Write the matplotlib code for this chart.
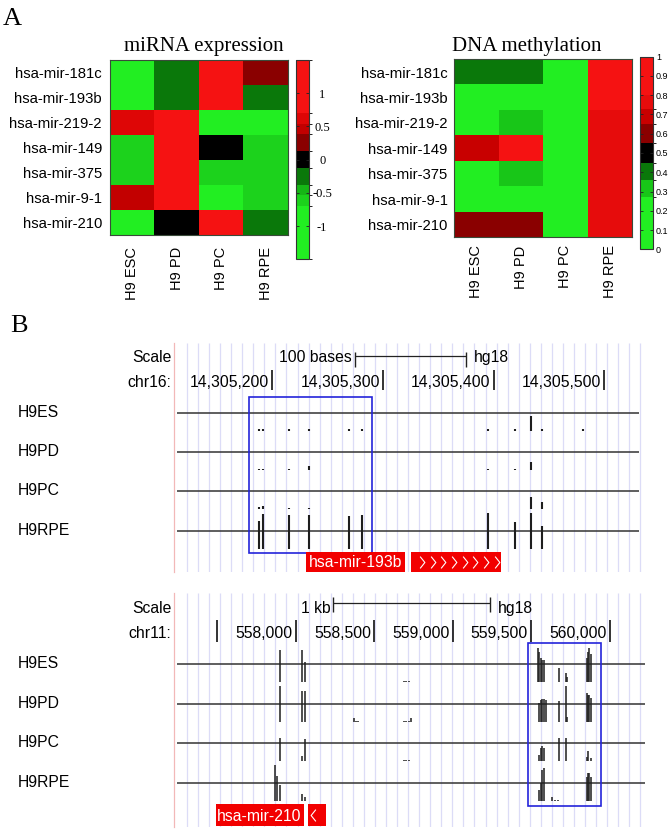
import numpy as np
import matplotlib.pyplot as plt
import matplotlib.transforms as mtransforms
from matplotlib.colors import ListedColormap, BoundaryNorm
from matplotlib.patches import Rectangle
from matplotlib.path import Path

plt.rcParams["font.family"] = ["Liberation Sans", "DejaVu Sans"]

W, H = 672, 833

# ---------------------------------------------------------
# Panel A data
# ---------------------------------------------------------
mirnas = ["hsa-mir-181c", "hsa-mir-193b", "hsa-mir-219-2", "hsa-mir-149",
          "hsa-mir-375", "hsa-mir-9-1", "hsa-mir-210"]
samples = ["H9 ESC", "H9 PD", "H9 PC", "H9 RPE"]

expr = [
    [-1.3, -0.3, 1.2, 0.3],
    [-1.3, -0.3, 1.2, -0.3],
    [0.6, 1.2, -1.3, -1.3],
    [-0.6, 1.2, 0.0, -0.6],
    [-0.6, 1.2, -0.6, -0.6],
    [0.45, 1.2, -1.3, -0.6],
    [-1.3, 0.0, 1.2, -0.3],
]
meth = [
    [0.40, 0.40, 0.10, 0.90],
    [0.10, 0.10, 0.10, 0.90],
    [0.10, 0.30, 0.10, 0.78],
    [0.68, 0.85, 0.10, 0.78],
    [0.10, 0.30, 0.15, 0.78],
    [0.10, 0.10, 0.10, 0.78],
    [0.60, 0.60, 0.10, 0.75],
]

expr_bounds = [-1.5, -0.7, -0.53, -0.38, -0.13, 0.13, 0.38, 0.53, 0.7, 1.5]
expr_colors = ["#22EE22", "#1CD21C", "#16B616", "#0A780A", "#000000",
               "#8A0000", "#C20000", "#DE0606", "#F51212"]
expr_ticks = [-1, -0.5, 0, 0.5, 1]
expr_ticklabels = ["-1", "-0.5", "0", "0.5", "1"]

meth_bounds = [0, 0.27, 0.36, 0.45, 0.55, 0.65, 0.73, 0.8, 1.0]
meth_colors = ["#22EE22", "#18C618", "#0A780A", "#000000",
               "#8A0000", "#C80000", "#E60C0C", "#F51212"]
meth_ticks = [0, 0.1, 0.2, 0.3, 0.4, 0.5, 0.6, 0.7, 0.8, 0.9, 1.0]
meth_ticklabels = ["0", "0.1", "0.2", "0.3", "0.4", "0.5", "0.6", "0.7", "0.8", "0.9", "1"]

# ---------------------------------------------------------
# Panel B data (CpG positions and methylation level per track)
# ---------------------------------------------------------
tracks = ["H9ES", "H9PD", "H9PC", "H9RPE"]

cpg16 = [14305188, 14305192, 14305215, 14305233, 14305269, 14305281,
         14305395, 14305419, 14305434, 14305444, 14305481]
es16 = [0.04, 0.04, 0.04, 0.04, 0.04, 0.04, 0.04, 0.04, 0.40, 0.04, 0.04]
pd16 = [0.04, 0.04, 0.04, 0.12, 0, 0, 0.04, 0.04, 0.23, 0, 0]
pc16 = [0.06, 0.10, 0.04, 0.04, 0, 0, 0, 0, 0.35, 0.20, 0]
rpe16 = [0.80, 0.97, 0.96, 0.96, 0.92, 0.96, 1.00, 0.77, 1.00, 0.64, 0]
ticks16 = [14305200, 14305300, 14305400, 14305500]
ticklabels16 = ["14,305,200", "14,305,300", "14,305,400", "14,305,500"]
view16 = (14305111.3, 14305536.8)
scale16 = (14305275, 100, "100 bases")
gene16 = ("hsa-mir-193b", 14305231, 14305320)
arrow16 = (14305325, 14305407, 8, "+")
box16 = (14305179, 14305290)

cpg11 = [557868, 557881, 557897, 558038, 558059, 558373, 558385, 558397,
         558690, 558705, 558720, 558735, 559542, 559553, 559562, 559572,
         559585, 559595, 559635, 559653, 559674, 559680, 559721, 559727,
         559855, 559863, 559871, 559882]
es11 = [0, 0, 0.90, 0.88, 0.55, 0, 0, 0, 0.04, 0.04, 0.04, 0,
        0.94, 0.84, 0.67, 0.62, 0.60, 0, 0, 0, 0, 0.38, 0.26, 0.15,
        0.67, 0.84, 0.95, 0.78]
pd11 = [0, 0, 1.00, 0.86, 0.86, 0.12, 0.04, 0.04, 0.04, 0.04, 0.04, 0.10,
        0, 0.54, 0.60, 0.65, 0.65, 0.62, 0, 0, 0, 0.58, 1.00, 0.14,
        0.80, 0.76, 0.76, 0.66]
pc11 = [0, 0, 0.64, 0.15, 0.62, 0, 0, 0, 0.04, 0.04, 0.04, 0,
        0, 0.17, 0.37, 0.42, 0.37, 0, 0, 0, 0, 0.64, 0.64, 0,
        0.12, 0.30, 0, 0.08]
rpe11 = [1.00, 0.70, 0.45, 0.20, 0.12, 0, 0, 0, 0, 0, 0, 0,
         0, 0.31, 0.50, 0.87, 0.92, 0, 0.12, 0.04, 0.04, 0, 0, 0,
         0.68, 0.78, 0.78, 0.68]
ticks11 = [557500, 558000, 558500, 559000, 559500, 560000]
ticklabels11 = ["", "558,000", "558,500", "559,000", "559,500", "560,000"]
view11 = (557224, 560226)
scale11 = (558240, 1000, "1 kb")
gene11 = ("hsa-mir-210", 557489, 558050)
arrow11 = (558077, 558192, 1, "-")
box11 = (559478, 559948)

fig = plt.figure(figsize=(W / 100, H / 100), dpi=100)


def px_axes(l, t, r, b):
    return fig.add_axes([l / W, 1 - b / H, (r - l) / W, (b - t) / H])


def fig_text(x, y, s, **kw):
    fig.text(x / W, 1 - y / H, s, **kw)


# ---------------------------------------------------------
# Panel A heatmaps
# ---------------------------------------------------------
def heatmap(box, cbox, data, bounds, colors, ypad, xpad,
            cticks, clabels, cfont, cpad, cha):
    ax = px_axes(*box)
    cmap = ListedColormap(colors)
    norm = BoundaryNorm(bounds, cmap.N)
    im = ax.imshow(np.array(data), cmap=cmap, norm=norm, aspect="auto",
                   interpolation="nearest")
    ax.set_xticks(range(len(samples)), samples, rotation=90, fontsize=10.5)
    ax.set_yticks(range(len(mirnas)), mirnas, fontsize=10.7)
    ax.tick_params(axis="x", length=0, pad=xpad)
    ax.tick_params(axis="y", length=0, pad=ypad)
    for s in ax.spines.values():
        s.set_color("#3a4a3a")
        s.set_linewidth(0.8)

    cax = px_axes(*cbox)
    cb = fig.colorbar(im, cax=cax, spacing="proportional", ticks=cticks)
    cb.outline.set_linewidth(0.8)
    cb.outline.set_edgecolor("#333333")
    cax.tick_params(direction="in", left=True, right=True, length=2.5,
                    width=0.6, color="#222222", pad=cpad)
    cax.set_yticklabels(clabels, **cfont)
    for t in cax.get_yticklabels():
        t.set_ha(cha)
    return ax


heatmap((110, 60, 288, 235), (296, 60, 309, 259.3), expr, expr_bounds,
        expr_colors, 5.8, 8.4, expr_ticks, expr_ticklabels,
        dict(family="Liberation Serif", fontsize=9), 9.5, "center")
heatmap((453.7, 59.3, 632, 237.3), (640.3, 56.7, 653.3, 249.3), meth,
        meth_bounds, meth_colors, 4.3, 5.8, meth_ticks, meth_ticklabels,
        dict(family="Liberation Sans", fontsize=6.5), 2.0, "left")

fig_text(203.5, 51.5, "miRNA expression", family="Liberation Serif",
         fontsize=15, ha="center", va="baseline")
fig_text(527, 50.5, "DNA methylation", family="Liberation Serif",
         fontsize=15, ha="center", va="baseline")
fig_text(3, 25, "A", family="Liberation Serif", fontsize=19, va="baseline")
fig_text(10, 331.5, "B", family="Liberation Serif", fontsize=19, va="baseline")


# ---------------------------------------------------------
# Panel B genome browser views
# ---------------------------------------------------------
def chevron(direction):
    if direction == "+":
        verts = [(-0.4, 1), (0.4, 0), (-0.4, -1)]
    else:
        verts = [(0.4, 1), (-0.4, 0), (0.4, -1)]
    return Path(verts, [Path.MOVETO, Path.LINETO, Path.LINETO])


def browser(box_px, lay, view, sites, values, ticks, ticklabels, scale,
            chrom, gene, arrow, hbox, line_end, bar_lw):
    ax = px_axes(*box_px)
    h = box_px[3] - box_px[1]
    ax.set_xlim(view)
    ax.set_ylim(h, 0)
    ax.set_xticks([])
    ax.set_yticks([])
    for s in ["top", "right", "bottom"]:
        ax.spines[s].set_visible(False)
    ax.spines["left"].set_color("#F2B8B8")
    ax.spines["left"].set_linewidth(0.9)

    # light guide lines every ~11 px
    width = box_px[2] - box_px[0]
    gx = np.arange(12.9, width - 4, 11.06) / width
    ax.vlines(gx, 0, 1, transform=ax.transAxes, colors="#DCDCF7",
              lw=0.9, zorder=0)

    lx = mtransforms.blended_transform_factory(fig.transFigure, ax.transData)
    left_of = mtransforms.offset_copy(ax.transData, fig=fig, x=-3, units="dots")
    right_of = mtransforms.offset_copy(ax.transData, fig=fig, x=8, units="dots")
    fs = 11.3

    # scale row
    s0, slen, stxt = scale
    ax.text(171.5 / W, lay["scale_base"], "Scale", transform=lx, ha="right",
            va="baseline", fontsize=fs)
    ax.text(s0, lay["scale_base"], stxt, transform=left_of, ha="right",
            va="baseline", fontsize=fs)
    ax.hlines(lay["scale_line"], s0, s0 + slen, color="#222222", lw=0.9)
    ax.vlines([s0, s0 + slen], *lay["scale_tick"], color="#222222", lw=1.0)
    ax.text(s0 + slen, lay["scale_base"], "hg18", transform=right_of,
            ha="left", va="baseline", fontsize=fs)

    # chromosome position row
    ax.text(171.5 / W, lay["chr_base"], chrom, transform=lx, ha="right",
            va="baseline", fontsize=fs)
    ax.vlines(ticks, *lay["tick"], color="#111111", lw=1.2)
    for t, lab in zip(ticks, ticklabels):
        ax.text(t, lay["chr_base"], lab, transform=left_of, ha="right",
                va="baseline", fontsize=fs)

    # methylation tracks
    half = 18
    for name, yc, vals in zip(tracks, lay["tracks"], values):
        ax.text(18 / W, yc + 4, name, transform=lx, ha="left",
                va="baseline", fontsize=fs)
        ax.hlines(yc, 0.0055, line_end, transform=ax.get_yaxis_transform(),
                  color="#333333", lw=1.1)
        v = np.array(vals)
        x = np.array(sites)[v > 0]
        hgt = np.maximum(v[v > 0] * 2 * half, 1.5)
        ax.vlines(x, yc + half, yc + half - hgt, color="#1e1e1e", lw=bar_lw,
                  zorder=3)

    # highlight box
    ax.add_patch(Rectangle((hbox[0], lay["box"][0]), hbox[1] - hbox[0],
                           lay["box"][1] - lay["box"][0], fill=False,
                           ec="#2424DA", lw=1.2, zorder=4))

    # gene feature
    gname, g0, g1 = gene
    gt, gb = lay["gene"]
    ax.add_patch(Rectangle((g0, gt), g1 - g0, gb - gt, fc="#F20000",
                           ec="none", zorder=5, clip_on=False))
    ax.text((g0 + g1) / 2, (gt + gb) / 2 + 1, gname, color="white",
            ha="center", va="center", fontsize=fs, zorder=6)
    a0, a1, n, strand = arrow
    ax.add_patch(Rectangle((a0, gt), a1 - a0, gb - gt, fc="#F20000",
                           ec="none", zorder=5, clip_on=False))
    if n > 1:
        cx = np.linspace(a0 + (a1 - a0) * 0.125, a0 + (a1 - a0) * 0.95, n)
    else:
        cx = np.array([a0 + (a1 - a0) * 0.3])
    ax.plot(cx, np.full(n, (gt + gb) / 2), ls="none", marker=chevron(strand),
            ms=8.5, mec="white", mfc="none", mew=0.8, zorder=6, clip_on=False)
    return ax


lay16 = dict(scale_base=18.7, scale_line=12.7, scale_tick=(8.7, 23.7),
             chr_base=44.3, tick=(27, 47),
             tracks=[69.7, 109.3, 148.3, 188.3], gene=(208.7, 229),
             box=(54, 209.7))
lay11 = dict(scale_base=20.3, scale_line=10.3, scale_tick=(4, 18.7),
             chr_base=45.3, tick=(27, 48.7),
             tracks=[71, 111, 150.3, 190.3], gene=(211.3, 233),
             box=(50, 213))

browser((174, 343, 645, 572), lay16, view16, cpg16,
        [es16, pd16, pc16, rpe16], ticks16, ticklabels16, scale16,
        "chr16:", gene16, arrow16, box16, 0.988, 1.5)
browser((174, 593, 645, 827), lay11, view11, cpg11,
        [es11, pd11, pc11, rpe11], ticks11, ticklabels11, scale11,
        "chr11:", gene11, arrow11, box11, 1.0, 1.1)

fig.savefig("out.png", dpi=100)
